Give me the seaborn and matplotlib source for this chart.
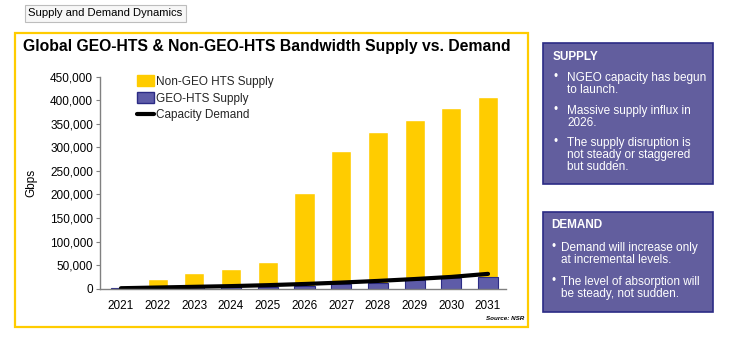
import matplotlib
matplotlib.use("Agg")
import matplotlib.pyplot as plt
from matplotlib.patches import Rectangle, Patch
from matplotlib.lines import Line2D
import seaborn as sns
import pandas as pd

years = ["2021", "2022", "2023", "2024", "2025", "2026", "2027", "2028", "2029", "2030", "2031"]
total_supply = [1500, 20500, 34000, 42500, 56000, 204000, 292000, 332000, 358000, 383000, 406000]
geo_supply = [1500, 2500, 3000, 3500, 4500, 6000, 10000, 13000, 18500, 22000, 25000]
demand = [1000, 2500, 4000, 5500, 7500, 10000, 13000, 16500, 20500, 25000, 31500]
yticks = [0, 50000, 100000, 150000, 200000, 250000, 300000, 350000, 400000, 450000]

supply_bullets = ["NGEO capacity has begun\nto launch.",
                  "Massive supply influx in\n2026.",
                  "The supply disruption is\nnot steady or staggered\nbut sudden."]
demand_bullets = ["Demand will increase only\nat incremental levels.",
                  "The level of absorption will\nbe steady, not sudden."]

YELLOW = "#FFCC00"
BLUE = "#5E5CA8"
NAVY = "#2B2B85"
PANEL = "#625E9E"

sns.set_theme(style="white")
plt.rcParams["font.family"] = ["Liberation Sans", "DejaVu Sans"]

W, H = 730, 341
fig = plt.figure(figsize=(W / 100, H / 100), dpi=100)

def fx(x):
    return x / W

def fy(y):
    return 1 - y / H

df = pd.DataFrame({"year": years, "total": total_supply, "geo": geo_supply,
                   "demand": demand, "idx": range(len(years))})

ax = fig.add_axes([fx(100), fy(288.7), fx(506) - fx(100), fy(76.7) - fy(288.7)])
sns.barplot(data=df, x="year", y="total", color=YELLOW, saturation=1, width=0.55, ax=ax)
sns.barplot(data=df, x="year", y="geo", color=BLUE, saturation=1, width=0.55, ax=ax,
            edgecolor=NAVY, linewidth=0.8)
sns.lineplot(data=df, x="idx", y="demand", color="black", linewidth=3, ax=ax)

ax.set_xlim(-0.57, 10.49)
ax.set_ylim(0, 450000)
ax.set_yticks(yticks)
ax.set_yticklabels([f"{v:,}" for v in yticks])
ax.set_xlabel("")
ax.set_ylabel("Gbps", fontsize=8.5, labelpad=9)
for s in ["top", "right"]:
    ax.spines[s].set_visible(False)
for s in ["left", "bottom"]:
    ax.spines[s].set_color("#808080")
    ax.spines[s].set_linewidth(1)
ax.tick_params(axis="y", left=True, length=3, width=0.8, color="#808080", labelsize=8.5, pad=2, labelcolor="black")
ax.tick_params(axis="x", bottom=False, labelsize=8.5, pad=2, labelcolor="black")
ax.yaxis.label.set_color("black")

handles = [Patch(facecolor=YELLOW, edgecolor=YELLOW),
           Patch(facecolor=BLUE, edgecolor=NAVY),
           Line2D([0], [0], color="black", linewidth=3)]
ax.legend(handles, ["Non-GEO HTS Supply", "GEO-HTS Supply", "Capacity Demand"],
          loc="upper left", bbox_to_anchor=(0.08, 1.03), frameon=False, fontsize=8.5,
          handlelength=1.4, handleheight=1.1, handletextpad=0.2, labelspacing=0.35,
          borderaxespad=0)

# yellow frame
fig.patches.append(Rectangle((fx(15), fy(327)), fx(528) - fx(15), fy(33) - fy(327),
                             transform=fig.transFigure, fill=False, edgecolor=YELLOW,
                             linewidth=1.6, zorder=0))
fig.text(fx(23), fy(47), "Global GEO-HTS & Non-GEO-HTS Bandwidth Supply vs. Demand",
         fontsize=11.3, fontweight="bold", ha="left", va="center", color="black")
fig.text(fx(524), fy(318), "Source: NSR", fontsize=4.5, fontstyle="italic",
         fontweight="bold", ha="right", va="center", color="black")

# top-left label
fig.text(fx(28), fy(13.5), "Supply and Demand Dynamics", fontsize=8.1, ha="left", va="center",
         color="black",
         bbox=dict(boxstyle="square,pad=0.3", facecolor="#F7F7F7", edgecolor="#BDBDBD", linewidth=0.8))

# right panels
def panel(x0, y0, x1, y1):
    fig.patches.append(Rectangle((fx(x0), fy(y1)), fx(x1) - fx(x0), fy(y0) - fy(y1),
                                 transform=fig.transFigure, facecolor=PANEL, edgecolor=NAVY,
                                 linewidth=1.2, zorder=0))

panel(543, 43, 713, 184)
fig.text(fx(553), fy(57), "SUPPLY", fontsize=8.5, fontweight="bold", color="white", ha="left", va="center")
sy = [77, 110, 142]
for y, t in zip(sy, supply_bullets):
    fig.text(fx(553), fy(y), "•", fontsize=8.5, color="white", ha="left", va="center")
    fig.text(fx(567), fy(y) + 5 / H, t, fontsize=8.5, color="white", ha="left", va="top",
             linespacing=1.0)

panel(543, 212, 713, 312)
fig.text(fx(551), fy(225), "DEMAND", fontsize=8.5, fontweight="bold", color="white", ha="left", va="center")
dy = [247, 281]
for y, t in zip(dy, demand_bullets):
    fig.text(fx(552), fy(y), "•", fontsize=8.5, color="white", ha="left", va="center")
    fig.text(fx(561), fy(y) + 5 / H, t, fontsize=8.5, color="white", ha="left", va="top",
             linespacing=1.0)

fig.savefig("out.png", dpi=100, facecolor="white")
